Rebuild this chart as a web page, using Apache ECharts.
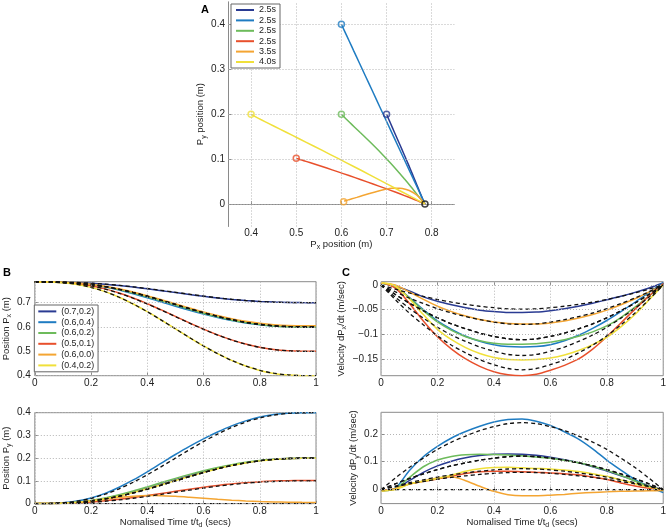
<!DOCTYPE html>
<html><head><meta charset="utf-8">
<script src="https://cdn.jsdelivr.net/npm/echarts@6/dist/echarts.min.js"></script>
<style>html,body{margin:0;padding:0;background:#fff}#c{width:669px;height:530px}</style>
</head><body><div id="c"></div>
<script>
// ---------- data ----------
const t = [0,0.05,0.1,0.15,0.2,0.25,0.3,0.35,0.4,0.45,0.5,0.55,0.6,0.65,0.7,0.75,0.8,0.85,0.9,0.95,1];

const durLabels = ['2.5s','2.5s','2.5s','2.5s','3.5s','4.0s'];
const targetLabels = ['(0.7,0.2)','(0.6,0.4)','(0.6,0.2)','(0.5,0.1)','(0.6,0.0)','(0.4,0.2)'];

// Position Px (solid)
const pxDkBlue = [0.785,0.7849,0.7840,0.7822,0.7793,0.7752,0.7700,0.7638,0.7568,0.7492,0.7413,0.7335,0.7261,0.7193,0.7134,0.7085,0.7048,0.7022,0.7007,0.7001,0.700];
const pxBlue   = [0.785,0.7848,0.7834,0.7799,0.7734,0.7642,0.7517,0.7369,0.7203,0.7027,0.6851,0.6685,0.6532,0.6393,0.6268,0.6167,0.6088,0.6037,0.6009,0.6000,0.600];
const pxGreen  = [0.785,0.7848,0.7832,0.7796,0.7735,0.7648,0.7535,0.7398,0.7244,0.7076,0.6903,0.6731,0.6567,0.6417,0.6287,0.6180,0.6099,0.6044,0.6013,0.6001,0.600];
const pxRed    = [0.785,0.7847,0.7827,0.7778,0.7692,0.7565,0.7397,0.7192,0.6957,0.6701,0.6435,0.6168,0.5912,0.5676,0.5470,0.5299,0.5168,0.5078,0.5026,0.5004,0.500];
const pxOrange = [0.785,0.7849,0.7837,0.7806,0.7752,0.7672,0.7566,0.7436,0.7287,0.7123,0.6953,0.6784,0.6621,0.6472,0.6341,0.6232,0.6149,0.6093,0.6061,0.6052,0.6050];
const pxYellow = [0.785,0.7845,0.7817,0.7748,0.7627,0.7452,0.7222,0.6944,0.6628,0.6283,0.5925,0.5567,0.5222,0.4906,0.4628,0.4395,0.4215,0.4092,0.4025,0.4002,0.400];
// Position Px (dashed reference)
const pxRef70 = [0.785,0.7849,0.7843,0.7827,0.7801,0.7762,0.7711,0.7650,0.7580,0.7504,0.7425,0.7346,0.7270,0.7200,0.7139,0.7088,0.7049,0.7023,0.7007,0.7001,0.700];
const pxRef60 = [0.785,0.7848,0.7834,0.7801,0.7743,0.7659,0.7548,0.7415,0.7263,0.7097,0.6925,0.6753,0.6587,0.6435,0.6302,0.6191,0.6107,0.6049,0.6016,0.6002,0.600];
const pxRef50 = [0.785,0.7847,0.7825,0.7774,0.7685,0.7555,0.7385,0.7180,0.6945,0.6690,0.6425,0.6160,0.5905,0.5670,0.5465,0.5295,0.5165,0.5076,0.5025,0.5003,0.500];
const pxRef40 = [0.785,0.7845,0.7817,0.7748,0.7627,0.7452,0.7222,0.6944,0.6628,0.6283,0.5925,0.5567,0.5222,0.4906,0.4628,0.4398,0.4223,0.4102,0.4033,0.4005,0.400];

// Position Py (solid)
const pyDkBlue = [0,0.0002,0.0019,0.0059,0.0127,0.0226,0.0354,0.0506,0.0677,0.0860,0.1046,0.1228,0.1398,0.1553,0.1689,0.1802,0.1888,0.1948,0.1983,0.1998,0.200];
const pyBlue   = [0,0.0005,0.0035,0.0110,0.0250,0.0450,0.0720,0.1040,0.1400,0.1780,0.2160,0.2520,0.2850,0.3150,0.3420,0.3640,0.3810,0.3920,0.3980,0.4000,0.400];
const pyGreen  = [0,0.0003,0.0020,0.0062,0.0138,0.0248,0.0390,0.0555,0.0737,0.0925,0.1110,0.1285,0.1446,0.1590,0.1715,0.1818,0.1898,0.1953,0.1986,0.1999,0.200];
const pyRed    = [0,0.0002,0.0012,0.0034,0.0070,0.0122,0.0188,0.0266,0.0353,0.0445,0.0540,0.0633,0.0721,0.0800,0.0868,0.0923,0.0964,0.0992,0.1008,0.1015,0.1020];
const pyOrange = [0,0.0002,0.0015,0.0052,0.0118,0.0195,0.0268,0.0322,0.0352,0.0350,0.0322,0.0280,0.0233,0.0188,0.0148,0.0116,0.0092,0.0074,0.0062,0.0055,0.0052];
const pyYellow = [0,0.0002,0.0018,0.0055,0.0120,0.0213,0.0335,0.0482,0.0650,0.0830,0.1015,0.1198,0.1373,0.1533,0.1673,0.1790,0.1880,0.1945,0.1982,0.1998,0.200];
// Position Py (dashed reference)
const pyRef40 = [0,0.0005,0.0034,0.0106,0.0232,0.0414,0.0652,0.0941,0.1270,0.1628,0.2000,0.2372,0.2730,0.3059,0.3348,0.3586,0.3768,0.3894,0.3966,0.3995,0.400];
const pyRef20 = [0,0.0002,0.0017,0.0053,0.0116,0.0207,0.0326,0.0470,0.0635,0.0814,0.1000,0.1186,0.1365,0.1530,0.1674,0.1793,0.1884,0.1947,0.1983,0.1998,0.200];
const pyRef10 = [0,0.0001,0.0009,0.0027,0.0058,0.0104,0.0163,0.0235,0.0317,0.0407,0.0500,0.0593,0.0683,0.0765,0.0837,0.0897,0.0942,0.0973,0.0991,0.0999,0.100];
const pyRef00 = [0,0,0,0,0,0,0,0,0,0,0,0,0,0,0,0,0,0,0,0,0];

// Velocity dPx/dt (solid)
const vxDkBlue = [0.004,-0.002,-0.012,-0.024,-0.033,-0.040,-0.046,-0.051,-0.054,-0.056,-0.056,-0.055,-0.052,-0.048,-0.043,-0.037,-0.030,-0.023,-0.015,-0.006,0.004];
const vxBlue   = [0.004,-0.004,-0.025,-0.050,-0.073,-0.090,-0.104,-0.114,-0.121,-0.125,-0.126,-0.125,-0.121,-0.113,-0.102,-0.088,-0.072,-0.054,-0.035,-0.015,0.005];
const vxGreen  = [0.004,-0.004,-0.026,-0.052,-0.075,-0.092,-0.105,-0.113,-0.118,-0.120,-0.120,-0.119,-0.116,-0.111,-0.104,-0.095,-0.083,-0.066,-0.045,-0.022,0.000];
const vxRed    = [0.005,-0.006,-0.037,-0.073,-0.105,-0.130,-0.150,-0.165,-0.176,-0.182,-0.184,-0.181,-0.173,-0.163,-0.150,-0.130,-0.105,-0.077,-0.049,-0.022,0.003];
const vxOrange = [0.004,0.000,-0.014,-0.029,-0.043,-0.054,-0.063,-0.070,-0.075,-0.078,-0.079,-0.079,-0.077,-0.073,-0.067,-0.060,-0.051,-0.040,-0.028,-0.014,0.000];
const vxYellow = [0.005,-0.002,-0.028,-0.060,-0.090,-0.111,-0.127,-0.139,-0.147,-0.151,-0.152,-0.151,-0.148,-0.142,-0.133,-0.121,-0.106,-0.085,-0.060,-0.030,0.000];
// Velocity dPx/dt (dashed reference)
const vxRef1 = [0,-0.0083,-0.0162,-0.0230,-0.0294,-0.0348,-0.0392,-0.0431,-0.0461,-0.0483,-0.0490,-0.0483,-0.0461,-0.0431,-0.0392,-0.0348,-0.0294,-0.0230,-0.0162,-0.0083,0];
const vxRef2 = [0,-0.0136,-0.0264,-0.0376,-0.0480,-0.0568,-0.0640,-0.0704,-0.0752,-0.0788,-0.0800,-0.0788,-0.0752,-0.0704,-0.0640,-0.0568,-0.0480,-0.0376,-0.0264,-0.0136,0];
const vxRef3 = [0,-0.0189,-0.0366,-0.0522,-0.0666,-0.0788,-0.0888,-0.0977,-0.1043,-0.1093,-0.1110,-0.1093,-0.1043,-0.0977,-0.0888,-0.0788,-0.0666,-0.0522,-0.0366,-0.0189,0];
const vxRef4 = [0,-0.0243,-0.0472,-0.0672,-0.0858,-0.1015,-0.1144,-0.1258,-0.1344,-0.1409,-0.1430,-0.1409,-0.1344,-0.1258,-0.1144,-0.1015,-0.0858,-0.0672,-0.0472,-0.0243,0];
const vxRef5 = [0,-0.0292,-0.0568,-0.0808,-0.1032,-0.1221,-0.1376,-0.1514,-0.1617,-0.1694,-0.1720,-0.1694,-0.1617,-0.1514,-0.1376,-0.1221,-0.1032,-0.0808,-0.0568,-0.0292,0];

// Velocity dPy/dt (solid)
const vyDkBlue = [-0.004,0.002,0.032,0.062,0.085,0.102,0.114,0.122,0.127,0.128,0.127,0.123,0.116,0.107,0.096,0.082,0.067,0.050,0.032,0.013,-0.002];
const vyBlue   = [-0.003,0.005,0.068,0.118,0.155,0.185,0.208,0.227,0.242,0.251,0.253,0.245,0.230,0.207,0.181,0.146,0.106,0.070,0.036,0.010,-0.010];
const vyGreen  = [-0.004,0.003,0.043,0.082,0.106,0.119,0.125,0.127,0.126,0.124,0.121,0.117,0.112,0.105,0.096,0.084,0.069,0.051,0.031,0.012,-0.003];
const vyRed    = [-0.004,0.002,0.020,0.030,0.038,0.048,0.058,0.064,0.066,0.066,0.064,0.062,0.060,0.057,0.053,0.045,0.036,0.024,0.013,0.005,0.000];
const vyOrange = [-0.004,0.003,0.020,0.031,0.042,0.046,0.032,0.012,-0.006,-0.018,-0.022,-0.022,-0.020,-0.017,-0.013,-0.010,-0.008,-0.006,-0.005,-0.004,-0.003];
const vyYellow = [-0.005,0.000,0.020,0.030,0.040,0.052,0.066,0.075,0.079,0.080,0.078,0.076,0.074,0.070,0.065,0.057,0.048,0.035,0.021,0.009,0.000];
// Velocity dPy/dt (dashed reference)
const vyRef1 = [0,0.0408,0.0792,0.1128,0.1440,0.1704,0.1920,0.2112,0.2256,0.2364,0.2400,0.2364,0.2256,0.2112,0.1920,0.1704,0.1440,0.1128,0.0792,0.0408,0];
const vyRef2 = [0,0.0204,0.0396,0.0564,0.0720,0.0852,0.0960,0.1056,0.1128,0.1182,0.1200,0.1182,0.1128,0.1056,0.0960,0.0852,0.0720,0.0564,0.0396,0.0204,0];
const vyRef3 = [0,0.0128,0.0248,0.0353,0.0450,0.0533,0.0600,0.0660,0.0705,0.0739,0.0750,0.0739,0.0705,0.0660,0.0600,0.0533,0.0450,0.0353,0.0248,0.0128,0];
const vyRef4 = [0,0.0105,0.0205,0.0291,0.0372,0.0440,0.0496,0.0546,0.0583,0.0611,0.0620,0.0611,0.0583,0.0546,0.0496,0.0440,0.0372,0.0291,0.0205,0.0105,0];
const vyRef5 = [0,0,0,0,0,0,0,0,0,0,0,0,0,0,0,0,0,0,0,0,0];

// tick values
const ticksAx = [0.4,0.5,0.6,0.7,0.8];
const ticksAy = [0,0.1,0.2,0.3,0.4];
const ticksT  = [0,0.2,0.4,0.6,0.8,1];
const ticksBtop = [0.4,0.5,0.6,0.7];
const ticksBbot = [0,0.1,0.2,0.3,0.4];
const ticksCtop = [-0.15,-0.1,-0.05,0];
const ticksCbot = [0,0.1,0.2];

// ---------- build ----------
const FONT = '"Liberation Sans", Arial, Helvetica, sans-serif';
const COL = ['#2a3b92','#1f7cc2','#6dbb5b','#e8502c','#f4a532','#f0e03a'];
const GRIDCOL = '#b4b4b4';

const traj = [
  {px:pxDkBlue, py:pyDkBlue, vx:vxDkBlue, vy:vyDkBlue, rpx:pxRef70, rpy:pyRef20, rvx:vxRef1, rvy:vyRef2},
  {px:pxBlue,   py:pyBlue,   vx:vxBlue,   vy:vyBlue,   rpx:pxRef60, rpy:pyRef40, rvx:vxRef3, rvy:vyRef1},
  {px:pxGreen,  py:pyGreen,  vx:vxGreen,  vy:vyGreen,  rpx:pxRef60, rpy:pyRef20, rvx:vxRef3, rvy:vyRef2},
  {px:pxRed,    py:pyRed,    vx:vxRed,    vy:vyRed,    rpx:pxRef50, rpy:pyRef10, rvx:vxRef5, rvy:vyRef4},
  {px:pxOrange, py:pyOrange, vx:vxOrange, vy:vyOrange, rpx:pxRef60, rpy:pyRef00, rvx:vxRef2, rvy:vyRef5},
  {px:pxYellow, py:pyYellow, vx:vxYellow, vy:vyYellow, rpx:pxRef40, rpy:pyRef20, rvx:vxRef4, rvy:vyRef3}
];

function fmt(v){ return String(Math.round(v*1000)/1000).replace('-', '\u2212'); }

const rich = {
  n:{fontSize:9.5, fontFamily:FONT, color:'#222', lineHeight:14},
  s:{fontSize:7, fontFamily:FONT, color:'#222', lineHeight:7, verticalAlign:'bottom'}
};

function axis(gi, min, max, ticks, name, gap, labelMargin, showLine){
  const a = {
    type:'value', gridIndex:gi, min:min, max:max,
    axisLine:{show:!!showLine, lineStyle:{color:'#8a8a8a'}},
    axisTick:{show:true, inside:true, length:3, customValues:ticks, lineStyle:{color:'#8a8a8a'}},
    axisLabel:{customValues:ticks, formatter:fmt, fontSize:10, fontFamily:FONT, color:'#222', margin:labelMargin},
    splitLine:{show:false}
  };
  if (name){
    a.name = name; a.nameLocation = 'middle'; a.nameGap = gap;
    a.nameTextStyle = {rich:rich};
  }
  return a;
}

const grids = [
  {left:228.5, top:1.8, width:225.8, height:224.7, show:false},
  {left:31, top:281.7, width:285, height:94, show:true, borderColor:'#8a8a8a', borderWidth:1},
  {left:31, top:412.7, width:285, height:93.3, show:true, borderColor:'#8a8a8a', borderWidth:1},
  {left:381, top:281.7, width:284, height:94, show:true, borderColor:'#8a8a8a', borderWidth:1},
  {left:381, top:412.3, width:284, height:93.7, show:true, borderColor:'#8a8a8a', borderWidth:1}
];

const tName = '{n|Nomalised Time t/t}{s|d}{n| (secs)}';
const xAxes = [
  axis(0, 0.35, 0.85, ticksAx, '{n|P}{s|x}{n| position (m)}', 8, 1.5, true),
  axis(1, 0, 1, ticksT, null, 0, 2.5),
  axis(2, 0, 1, ticksT, tName, 7, 2.5),
  axis(3, 0, 1, ticksT, null, 0, 2.5),
  axis(4, 0, 1, ticksT, tName, 7, 2.5)
];
const yAxes = [
  axis(0, -0.05, 0.45, ticksAy, '{n|P}{s|y}{n| position (m)}', 20, 3.5, true),
  axis(1, 0.4, 0.786, ticksBtop, '{n|Position P}{s|x}{n| (m)}', 18, 4),
  axis(2, 0, 0.4, ticksBbot, '{n|Position P}{s|y}{n| (m)}', 18, 4),
  axis(3, -0.184, 0.0067, ticksCtop, '{n|Velocity dP}{s|x}{n|/dt (m/sec)}', 33, 3),
  axis(4, -0.05, 0.277, ticksCbot, '{n|Velocity dP}{s|y}{n|/dt (m/sec)}', 19, 3)
];
const gridTicks = [
  {x:ticksAx, y:ticksAy}, {x:ticksT, y:ticksBtop}, {x:ticksT, y:ticksBbot},
  {x:ticksT, y:ticksCtop}, {x:ticksT, y:ticksCbot}
];

function ln(name, idx, data, color, dashed){
  return {
    type:'line', name:name, xAxisIndex:idx, yAxisIndex:idx, data:data,
    showSymbol:false, symbol:'none', smooth:0.3, silent:true, animation:false,
    z: dashed ? 4 : 3,
    lineStyle:{color:color, width: dashed ? 1.3 : 1.5, type: dashed ? [4,3] : 'solid'},
    itemStyle:{color:color}
  };
}
function zipT(arr){ return t.map((v,i)=>[v, arr[i]]); }

const series = [];
// dotted grid lines (at the tick values) for each panel
gridTicks.forEach((g,i)=>{
  series.push({
    type:'line', xAxisIndex:i, yAxisIndex:i, data:[], silent:true, animation:false, z:1,
    markLine:{
      silent:true, symbol:['none','none'], label:{show:false}, animation:false,
      lineStyle:{color:GRIDCOL, type:[1,2], width:1},
      data: g.x.map(v=>({xAxis:v})).concat(g.y.map(v=>({yAxis:v})))
    }
  });
});
// Panel A trajectories
traj.forEach((d,k)=>{
  series.push(ln('A'+k, 0, d.px.map((v,i)=>[v, d.py[i]]), COL[k], false));
});
traj.forEach((d,k)=>{
  const n = d.px.length-1;
  series.push({type:'scatter', xAxisIndex:0, yAxisIndex:0, silent:true, animation:false, z:5,
    data:[[d.px[n], d.py[n]]], symbol:'circle', symbolSize:6,
    itemStyle:{color:'rgba(0,0,0,0)', borderColor:COL[k], borderWidth:1.5}});
});
series.push({type:'scatter', xAxisIndex:0, yAxisIndex:0, silent:true, animation:false, z:6,
  data:[[traj[0].px[0], traj[0].py[0]]], symbol:'circle', symbolSize:6,
  itemStyle:{color:'rgba(0,0,0,0)', borderColor:'#111', borderWidth:1.5}});

// Panels B, C solids
traj.forEach((d,k)=>{
  series.push(ln('B'+k, 1, zipT(d.px), COL[k], false));
  series.push(ln('Bb'+k, 2, zipT(d.py), COL[k], false));
  series.push(ln('Ct'+k, 3, zipT(d.vx), COL[k], false));
  series.push(ln('Cb'+k, 4, zipT(d.vy), COL[k], false));
});
// dashed references
traj.forEach((d,k)=>{
  series.push(ln('rB'+k, 1, zipT(d.rpx), '#111', true));
  series.push(ln('rBb'+k, 2, zipT(d.rpy), '#111', true));
  series.push(ln('rCt'+k, 3, zipT(d.rvx), '#111', true));
  series.push(ln('rCb'+k, 4, zipT(d.rvy), '#111', true));
});

const legendBase = {
  orient:'vertical', icon:'rect', itemWidth:18, itemHeight:2, selectedMode:false,
  borderColor:'#666', borderWidth:1, backgroundColor:'#fff', borderRadius:0, z:10,
  textStyle:{fontSize:9, fontFamily:FONT, color:'#222'}
};
const legends = [
  Object.assign({}, legendBase, {
    data: durLabels.map((_,k)=>'A'+k), left:231, top:4, itemGap:0.4, padding:[1,4,1,5],
    textStyle:{fontSize:9, lineHeight:10, fontFamily:FONT, color:'#222'},
    formatter: n => durLabels[+n.slice(1)]
  }),
  Object.assign({}, legendBase, {
    data: targetLabels.map((_,k)=>'B'+k), left:34.3, top:305, itemGap:0, padding:[1,4,1,4],
    textStyle:{fontSize:8.8, lineHeight:10.8, fontFamily:FONT, color:'#222'},
    formatter: n => targetLabels[+n.slice(1)]
  })
];

const chart = echarts.init(document.getElementById('c'), null, {renderer:'canvas'});
chart.setOption({
  animation:false,
  backgroundColor:'#fff',
  grid:grids, xAxis:xAxes, yAxis:yAxes, legend:legends, series:series,
  graphic:[
    {type:'text', left:201, top:4, style:{text:'A', font:'bold 11px "Liberation Sans", Arial', fill:'#000'}},
    {type:'text', left:3, top:267, style:{text:'B', font:'bold 11px "Liberation Sans", Arial', fill:'#000'}},
    {type:'text', left:342, top:267, style:{text:'C', font:'bold 11px "Liberation Sans", Arial', fill:'#000'}}
  ]
});
</script>
</body></html>
